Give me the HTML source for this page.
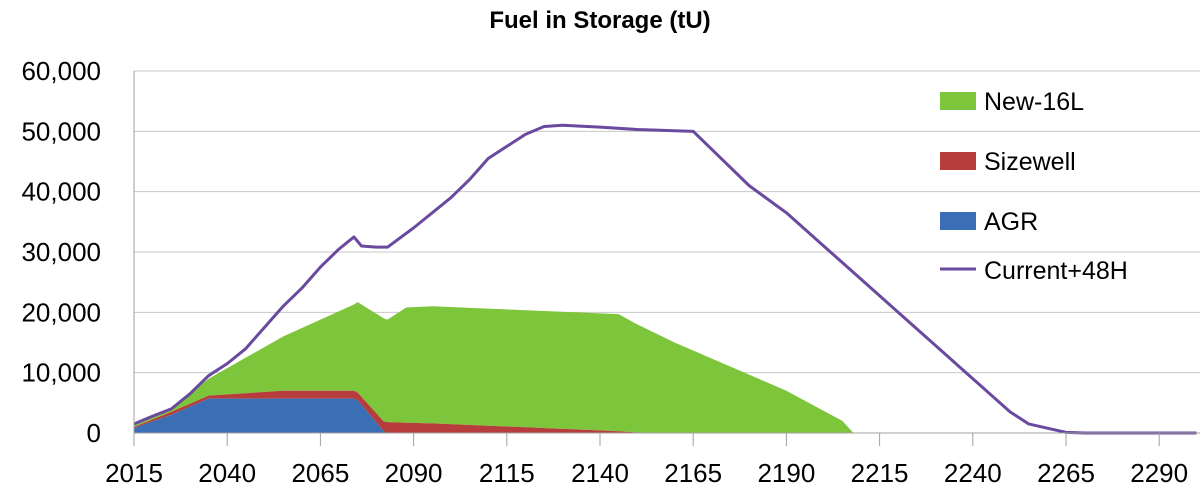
<!DOCTYPE html>
<html><head><meta charset="utf-8"><style>
body{margin:0;background:#fff;font-family:"Liberation Sans",sans-serif}
svg text{font-family:"Liberation Sans",sans-serif;fill:#000}
</style></head><body>
<svg id="chart" width="1200" height="494" viewBox="0 0 1200 494">
<text x="600" y="28" text-anchor="middle" font-size="24" font-weight="bold">Fuel in Storage (tU)</text>
<g id="grid"></g><g id="areas"></g><g id="lines"></g><g id="axes"></g>
<g>
<rect x="940" y="92" width="36" height="18" fill="#7dc63c"/>
<text x="984" y="110" font-size="25">New-16L</text>
<rect x="940" y="152" width="36" height="18" fill="#b73c3c"/>
<text x="984" y="170" font-size="25">Sizewell</text>
<rect x="940" y="212" width="36" height="18" fill="#3a6fb5"/>
<text x="984" y="230" font-size="25">AGR</text>
<line x1="940" y1="269" x2="976" y2="269" stroke="#6a4a9e" stroke-width="3"/>
<text x="984" y="279" font-size="25">Current+48H</text>
</g>
</svg>
<script>
const years=[2015,2025,2035,2055,2074,2075,2082,2083,2088,2095,2145,2150,2160,2190,2205,2208];
const agr=[800,3000,5700,5700,5700,5400,300,0,0,0,0,0,0,0,0,0];
const sizewell=[200,500,500,1300,1300,1300,1600,1800,1700,1600,300,100,0,0,0,0];
const new16l=[200,500,2800,9000,14300,15000,17100,17000,19100,19400,19400,17900,15000,7000,2000,0];
const lineYears=[2015,2020,2025,2030,2035,2040,2045,2050,2055,2060,2065,2070,2074,2076,2080,2083,2090,2100,2105,2110,2115,2120,2125,2130,2140,2150,2165,2170,2180,2190,2200,2210,2220,2230,2240,2250,2255,2260,2265,2270,2300];
const current48h=[1500,2800,4000,6500,9500,11500,14000,17500,21000,24000,27500,30500,32500,31000,30800,30800,34000,39000,42000,45500,47500,49500,50800,51000,50700,50300,50000,47000,41000,36500,31000,25500,20000,14500,9000,3500,1500,800,100,0,0];
const yTicks=[0,10000,20000,30000,40000,50000,60000];
const xTicks=[2015,2040,2065,2090,2115,2140,2165,2190,2215,2240,2265,2290];
const X=y=>134+(y-2015)*93.2/25;
const Y=v=>433-v*(433-71)/60000;
const NS="http://www.w3.org/2000/svg";
function mk(tag,parent,attrs){const e=document.createElementNS(NS,tag);for(const k in attrs)e.setAttribute(k,attrs[k]);document.getElementById(parent).appendChild(e);return e;}
yTicks.forEach(v=>{
  const g=mk('line','grid',{x1:134,x2:1200,y1:Y(v),y2:Y(v),stroke:'#c8c8c8','stroke-width':1});
  
  
  const t=mk('text','axes',{x:101,y:Y(v)+9,'text-anchor':'end','font-size':26});
  t.textContent=v.toLocaleString('en-US');
  
  
});
xTicks.forEach(yr=>{
  const l=mk('line','axes',{x1:X(yr),x2:X(yr),y1:433,y2:446,stroke:'#a0a0a0'});
  
  
  const t=mk('text','axes',{x:X(yr),y:482,'text-anchor':'middle','font-size':26});
  t.textContent=yr;
  
  
});
const ax=mk('line','axes',{x1:134,x2:134,y1:71,y2:433,stroke:'#a0a0a0'});


const bx=mk('line','axes',{x1:134,x2:1200,y1:433,y2:433,stroke:'#a0a0a0'});


const series=[[agr,'#3a6fb5','area-agr'],[sizewell,'#b73c3c','area-sizewell'],[new16l,'#7dc63c','area-new16l']];
let base=years.map(()=>0);
const shapes=[];
series.forEach(([vals,col,name])=>{
  const top=base.map((b,i)=>b+vals[i]);
  let d=years.map((y,i)=>(i?'L':'M')+X(y)+','+Y(top[i])).join(' ');
  for(let i=years.length-1;i>=0;i--)d+=' L'+X(years[i])+','+Y(base[i]);
  shapes.push([d+'Z',col,name]);
  base=top;
});
shapes.reverse().forEach(([d,col,name])=>{
  const p=mk('path','areas',{d:d,fill:col});
  
  
});
const ld=lineYears.map((y,i)=>(i?'L':'M')+X(y)+','+Y(current48h[i])).join(' ');
const lp=mk('path','lines',{d:ld,fill:'none',stroke:'#6a4a9e','stroke-width':3,'stroke-linejoin':'round'});


</script>
</body></html>
